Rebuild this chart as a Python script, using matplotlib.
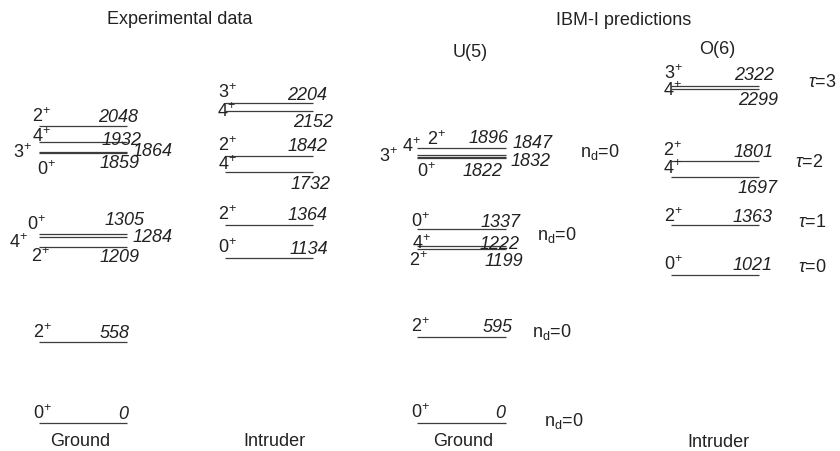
import matplotlib.pyplot as plt

plt.rcParams['font.family'] = ['Liberation Sans', 'DejaVu Sans']
plt.rcParams['mathtext.fontset'] = 'custom'
plt.rcParams['mathtext.rm'] = 'Liberation Sans'
plt.rcParams['mathtext.it'] = 'Liberation Sans:italic'
plt.rcParams['font.size'] = 13

# level energies (keV) and spins, one list per band
exp_gs_energy = [0, 558, 1209, 1284, 1305, 1859, 1864, 1932, 2048]
exp_gs_spin = ['0', '2', '2', '4', '0', '0', '3', '4', '2']

exp_int_energy = [1134, 1364, 1732, 1842, 2152, 2204]
exp_int_spin = ['0', '2', '4', '2', '4', '3']

u5_energy = [0, 595, 1199, 1222, 1337, 1822, 1832, 1847, 1896]
u5_spin = ['0', '2', '2', '4', '0', '0', '3', '4', '2']

o6_energy = [1021, 1363, 1697, 1801, 2299, 2322]
o6_spin = ['0', '2', '4', '2', '4', '3']

nd_energy = [0, 595, 1222, 1847]
nd_value = [0, 0, 0, 0]
tau_energy = [1021, 1363, 1801, 2322]
tau_value = [0, 1, 2, 3]

# label placement: (spin x, spin dy, energy x, energy ha, energy dy), dy in px below line
exp_gs_lab = [(33, -4, 128, 'right', -4), (33, -4, 130, 'right', -4),
              (31, 15, 140, 'right', 15), (9, 11, 133, 'left', 5),
              (27, -3.5, 145, 'right', -8.5), (37, 22, 140, 'right', 15),
              (13, 5.6, 133, 'left', 3.6), (32, 0, 142, 'right', 2.5),
              (32, -3.6, 138, 'right', -3.6)]
exp_int_lab = [(218, -5, 328, 'right', -4), (218, -5, 328, 'right', -5),
               (218, -1.5, 331, 'right', 17.5), (218, -4.5, 328, 'right', -4.5),
               (217, 6, 333, 'right', 16.5), (218, -4.5, 327, 'right', -3)]
u5_lab = [(411, -5, 505, 'right', -5), (411, -4.6, 513, 'right', -4.6),
          (409, 17.5, 523, 'right', 17), (412, 3.5, 520, 'right', 3.5),
          (411, -2, 521, 'right', -2), (417, 18.6, 503, 'right', 17.6),
          (379, 5, 511, 'left', 9), (402, -2.8, 513, 'left', -6.8),
          (427, -2.7, 509, 'right', -4.7)]
o6_lab = [(664, -4.7, 773, 'right', -4.7), (664, -3, 773, 'right', -3),
          (663, -2.5, 778, 'right', 16.4), (663, -5.5, 774, 'right', -4.5),
          (663, 7, 778, 'right', 16), (664, -6.5, 774, 'right', -5.8)]

nd_lab = [(544, 3), (532, 0.4), (537, -5.6), (580, 2.2)]
tau_lab = [(798, -2.7), (798, 2), (795, 5.5), (808, 1.2)]

ZERO_PX = 423.0
PX_PER_KEV = 0.1452
INK = '#222222'
LINE = '#3c3c3c'


def e_at(py):
    return (ZERO_PX - py) / PX_PER_KEV


fig = plt.figure(figsize=(8.4, 4.51), dpi=100)
ax = fig.add_axes([0, 0, 1, 1])
ax.set_xlim(0, 840)
ax.set_ylim(e_at(451), e_at(0))
ax.axis('off')


def put(x, e, dy, txt, ha='left', **kw):
    ax.annotate(txt, xy=(x, e), xytext=(0, -dy), textcoords='offset pixels',
                ha=ha, va='baseline', color=INK, **kw)


def band(x0, x1, energies, spins, layout):
    for e, s, (sx, sdy, ex, eha, edy) in zip(energies, spins, layout):
        ax.plot([x0, x1], [e, e], color=LINE, lw=0.9, solid_capstyle='butt')
        put(sx, e, sdy, r'$\mathregular{%s^{+}}$' % s)
        put(ex, e, edy, str(e), ha=eha, fontstyle='italic')


band(39, 127, exp_gs_energy, exp_gs_spin, exp_gs_lab)
band(225, 313, exp_int_energy, exp_int_spin, exp_int_lab)
band(417, 506, u5_energy, u5_spin, u5_lab)
band(671, 759, o6_energy, o6_spin, o6_lab)

for e, v, (x, dy) in zip(nd_energy, nd_value, nd_lab):
    put(x, e, dy, r'n$_\mathregular{d}$=%d' % v)
for e, v, (x, dy) in zip(tau_energy, tau_value, tau_lab):
    put(x, e, dy, r'$\tau$=%d' % v)

# headers and band names
heads = [('Experimental data', 180, 24), ('IBM-I predictions', 624, 25),
         ('U(5)', 470, 57), ('O(6)', 717, 54),
         ('Ground', 80, 446), ('Intruder', 274, 446),
         ('Ground', 463, 446), ('Intruder', 718, 447)]
for txt, x, py in heads:
    ax.text(x, e_at(py), txt, ha='center', va='baseline', color=INK)

fig.savefig('out.png', dpi=100)
